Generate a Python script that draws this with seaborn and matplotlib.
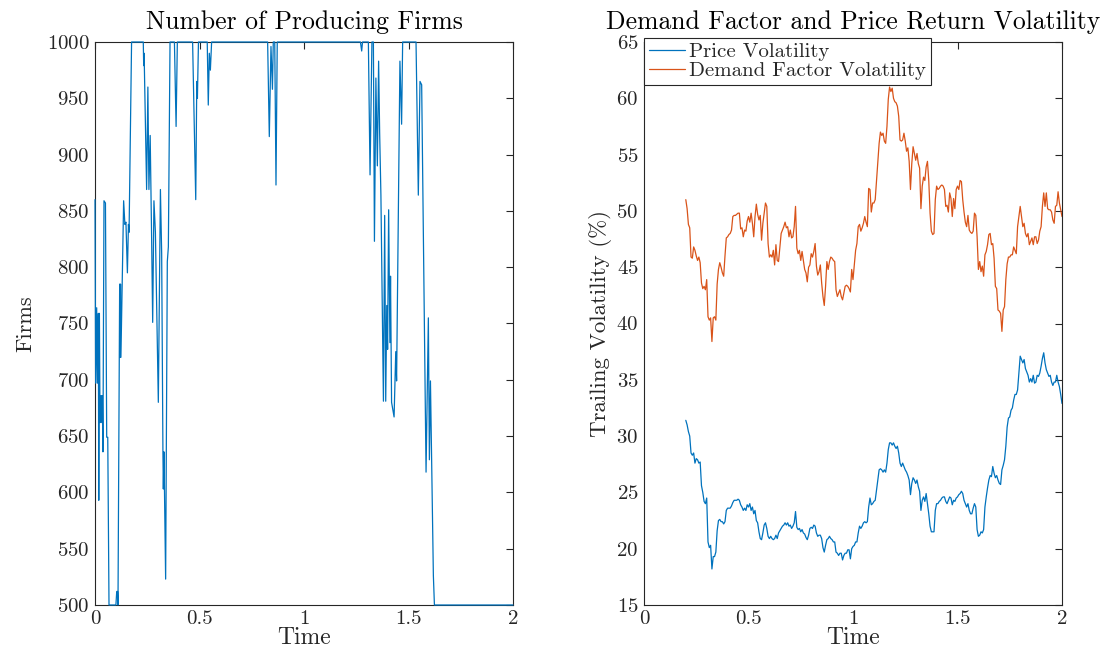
"""Producing firms and trailing volatility, two panels side by side."""

import matplotlib

matplotlib.use("Agg")

import matplotlib.pyplot as plt
import numpy as np
import pandas as pd
import seaborn as sns

# ---- left panel: number of producing firms (vertices) ----
firms_time = [
    0.000, 0.003, 0.008, 0.011, 0.016, 0.018, 0.021, 0.024, 0.029, 0.032,
    0.035, 0.038, 0.043, 0.050, 0.056, 0.061, 0.067, 0.100, 0.104, 0.108,
    0.110, 0.118, 0.120, 0.122, 0.124, 0.137, 0.143, 0.148, 0.155, 0.160,
    0.163, 0.175, 0.231, 0.233, 0.235, 0.247, 0.253, 0.258, 0.264, 0.271,
    0.276, 0.282, 0.289, 0.303, 0.313, 0.319, 0.325, 0.327, 0.330, 0.338,
    0.346, 0.351, 0.359, 0.380, 0.388, 0.394, 0.467, 0.482, 0.487, 0.490,
    0.495, 0.537, 0.542, 0.547, 0.552, 0.558, 0.826, 0.834, 0.842, 0.849,
    0.853, 0.860, 0.866, 0.872, 1.270, 1.276, 1.280, 1.308, 1.316, 1.325,
    1.332, 1.337, 1.344, 1.351, 1.357, 1.362, 1.368, 1.380, 1.386, 1.391,
    1.396, 1.400, 1.405, 1.411, 1.414, 1.419, 1.431, 1.439, 1.443, 1.459,
    1.467, 1.472, 1.536, 1.547, 1.555, 1.563, 1.584, 1.595, 1.600, 1.605,
    1.619, 1.624, 2.000,
]
firms_count = [
    860, 697, 764, 697, 759, 593, 759, 662, 686, 662,
    686, 636, 859, 857, 649, 649, 500, 500, 512, 512,
    500, 785, 720, 785, 720, 859, 838, 840, 795, 838,
    831, 1000, 1000, 979, 990, 869, 960, 869, 917, 825,
    751, 859, 831, 680, 869, 812, 636, 603, 636, 523,
    805, 818, 1000, 1000, 925, 1000, 1000, 860, 965, 950,
    1000, 1000, 944, 990, 975, 1000, 1000, 916, 996, 958,
    1000, 1000, 873, 1000, 1000, 992, 1000, 1000, 882, 1000,
    1000, 823, 968, 890, 983, 919, 864, 681, 846, 681,
    766, 727, 851, 733, 792, 680, 667, 725, 699, 983,
    927, 1000, 1000, 864, 965, 962, 618, 755, 629, 699,
    526, 500, 500,
]

# ---- right panel: trailing volatility (%), sampled every 1/160 from t=0.2 ----
price_vol = [
    # t 0.200 - 0.788
    31.4, 31.0, 30.4, 30.0, 28.5, 28.3, 28.5, 27.6, 28.0, 27.9,
    27.6, 27.7, 25.6, 25.0, 24.2, 24.0, 24.5, 20.6, 20.1, 20.3,
    18.2, 19.3, 19.3, 19.7, 21.6, 22.5, 22.6, 22.4, 22.4, 22.2,
    22.4, 23.4, 23.6, 23.6, 23.6, 23.8, 24.1, 24.3, 24.3, 24.3,
    24.4, 24.3, 23.9, 23.7, 23.4, 23.6, 23.4, 23.9, 23.7, 24.0,
    23.4, 23.7, 23.1, 23.4, 22.5, 22.3, 21.5, 20.9, 20.8, 21.4,
    22.1, 22.3, 21.8, 21.1, 20.9, 21.1, 20.9, 20.8, 20.9, 21.2,
    20.9, 21.4, 21.6, 21.8, 22.0, 22.1, 22.3, 22.1, 22.3, 22.0,
    22.1, 21.8, 22.0, 22.3, 23.3, 21.9, 21.7, 21.8, 21.5, 21.7,
    21.4, 21.3, 21.0, 20.8, 21.2,
    # t 0.794 - 1.319
    21.8, 21.9, 21.8, 22.1, 22.0, 21.4, 21.1, 21.2, 21.2, 20.9,
    20.1, 19.7, 20.3, 20.8, 20.9, 21.1, 20.9, 20.8, 20.6, 20.6,
    19.7, 19.6, 19.4, 19.6, 19.6, 19.0, 19.4, 19.6, 19.6, 19.9,
    19.9, 19.1, 20.0, 20.2, 20.3, 20.6, 20.6, 21.4, 22.0, 21.8,
    22.0, 22.3, 22.4, 22.3, 22.4, 23.7, 24.5, 23.9, 24.0, 24.2,
    24.3, 25.2, 26.1, 27.0, 27.1, 27.0, 26.8, 27.0, 26.8, 27.6,
    28.8, 29.4, 29.4, 29.2, 29.4, 29.1, 28.9, 29.1, 28.5, 27.6,
    27.3, 27.6, 27.3, 27.0, 26.8, 26.5, 26.1, 24.8, 25.8, 26.3,
    26.1, 25.8, 26.1, 25.5, 25.1,
    # t 1.325 - 2.000
    23.4, 24.3, 24.6, 24.2, 24.9, 24.0, 23.1, 22.0, 21.5, 21.5,
    21.5, 23.4, 24.0,
    24.0, 24.2, 24.3, 24.5, 24.6, 24.6, 24.2, 24.0, 24.3, 24.6,
    24.5, 23.9, 24.3, 24.2, 24.5, 24.6, 24.8, 24.9, 25.1, 24.9,
    24.3, 24.0, 23.7, 24.0, 23.4, 23.1, 23.1, 23.6, 24.0, 23.7,
    21.7, 21.1, 21.2, 21.5, 21.4, 21.7, 23.7, 24.6, 25.4, 26.1,
    26.5, 26.4, 27.3, 26.7, 26.3, 26.5, 26.1, 25.8, 25.7, 27.0,
    27.4, 27.9, 29.1, 30.8, 31.6, 31.7, 32.3, 32.5, 33.2, 33.7,
    33.7, 34.1, 35.6, 37.1, 36.8, 36.5, 36.8, 36.0, 35.7, 35.4,
    34.8, 35.1, 34.8, 35.4, 34.7, 34.8, 35.4, 35.3, 35.6, 36.2,
    36.9, 37.4, 36.5, 35.9, 35.6, 35.3, 35.4, 34.8, 34.5, 34.8,
    34.8, 35.4, 34.8, 34.4, 33.7, 32.9,
]
demand_vol = [
    # t 0.200 - 0.788
    51.0, 50.2, 48.8, 48.5, 45.9, 45.8, 46.8, 46.5, 46.0, 45.6,
    45.9, 45.4, 43.6, 43.1, 43.3, 43.0, 43.9, 40.6, 40.3, 40.5,
    38.4, 40.5, 40.6, 40.3, 43.5, 44.8, 45.4, 45.0, 44.5, 44.2,
    46.0, 47.6, 47.7, 47.9, 48.0, 48.3, 49.5, 49.6, 49.6, 49.7,
    49.8, 49.8, 48.4, 48.5, 47.7, 48.3, 48.2, 49.1, 49.5, 49.0,
    49.8, 48.9, 47.7, 49.5, 50.6, 49.7, 49.2, 49.6, 47.4, 48.9,
    49.8, 50.7, 50.4, 47.1, 45.9, 46.1, 45.9, 46.5, 45.2, 47.0,
    45.6, 45.5, 46.8, 48.0, 48.3, 48.6, 49.0, 48.5, 48.6, 47.7,
    48.3, 47.6, 47.7, 48.6, 50.4, 46.7, 46.2, 46.5, 45.6, 46.4,
    45.6, 44.8, 44.5, 43.7, 45.0,
    # t 0.794 - 1.319
    45.2, 46.2, 45.9, 46.4, 47.1, 45.1, 44.3, 44.6, 45.2, 43.6,
    42.4, 41.6, 43.3, 45.5, 44.8, 45.5, 45.9, 45.8, 45.6, 45.5,
    43.0, 42.4, 42.7, 43.0, 42.4, 42.1, 42.7, 43.3, 43.4, 43.3,
    43.1, 42.8, 44.8, 43.9, 45.2, 46.5, 47.1, 48.6, 48.8, 48.2,
    48.5, 48.9, 49.5, 49.0, 48.6, 52.0, 51.9, 49.9, 50.7, 50.7,
    51.0, 52.7, 54.5, 56.0, 57.0, 56.7, 56.9, 56.2, 56.0, 57.5,
    59.9, 61.0, 60.6, 60.9, 60.0, 59.7, 59.6, 59.3, 58.4, 56.3,
    56.2, 56.3, 56.9, 56.2, 55.3, 55.6, 54.4, 51.9, 54.2, 55.7,
    55.1, 54.5, 55.1, 54.2, 53.8,
    # t 1.325 - 2.000
    50.2, 52.2, 53.0, 52.7, 53.9, 54.4, 52.7, 49.8, 48.2, 47.9,
    48.0, 51.0, 52.2, 51.9, 52.0, 52.2, 52.3, 52.2, 51.9, 50.4,
    50.5, 49.9, 51.6, 51.1, 49.5, 51.1, 50.2, 51.9, 52.2, 51.9,
    52.7, 52.6, 51.0, 49.9, 49.0, 48.6, 49.6, 48.3,
    48.1, 48.0, 48.2, 49.8, 49.6, 47.7, 44.8, 45.5, 44.6, 45.1,
    44.2, 46.1, 46.4, 47.0, 47.9, 48.0, 47.0, 47.1, 45.8, 43.3,
    43.1, 41.2, 41.1, 40.9, 39.3, 41.2, 41.5, 43.9, 45.3, 45.9,
    45.9, 46.1, 46.1, 46.8, 46.5, 46.2, 48.6, 49.5, 50.4, 49.5,
    48.6, 48.9, 48.0, 47.7, 48.0, 47.0, 47.3, 47.6, 47.0, 47.7,
    47.7, 47.1, 47.4, 48.2, 48.6, 50.4, 51.6, 50.4, 51.6, 50.2,
    50.1, 50.1, 49.9, 49.2, 48.9, 50.4, 50.5, 51.7, 50.7, 50.1,
    49.5,
]
vol_time = np.linspace(0.2, 2.0, len(price_vol))

series_names = ["Price Volatility", "Demand Factor Volatility"]
series_colors = ["#0072BD", "#D95319"]
time_ticks = [0, 0.5, 1, 1.5, 2]
time_tick_labels = ["0", "0.5", "1", "1.5", "2"]
firms_ticks = list(range(500, 1001, 50))
vol_ticks = list(range(15, 66, 5))

sns.set_theme(style="white")
plt.rcParams["font.family"] = ["cmr10", "DejaVu Serif"]
plt.rcParams["axes.formatter.use_mathtext"] = True
plt.rcParams["mathtext.fontset"] = "cm"

AXIS_GREY = "#262626"

fig = plt.figure(figsize=(11.13, 6.55), dpi=100)
ax_firms = fig.add_axes([95 / 1113, 50 / 655, 418 / 1113, 563 / 655])
ax_vol = fig.add_axes([644 / 1113, 50 / 655, 418 / 1113, 563 / 655])

firms_df = pd.DataFrame({"time": firms_time, "firms": firms_count})
sns.lineplot(
    data=firms_df, x="time", y="firms", ax=ax_firms, estimator=None, sort=False,
    color=series_colors[0], linewidth=0.9, zorder=3, clip_on=False,
)

vol_df = pd.concat(
    [
        pd.DataFrame({"time": vol_time, "vol": price_vol, "series": series_names[0]}),
        pd.DataFrame({"time": vol_time, "vol": demand_vol, "series": series_names[1]}),
    ],
    ignore_index=True,
)
sns.lineplot(
    data=vol_df, x="time", y="vol", hue="series", ax=ax_vol, estimator=None,
    palette=dict(zip(series_names, series_colors)), linewidth=0.9,
)

for ax, yticks, ylim in [
    (ax_firms, firms_ticks, (500, 1000)),
    (ax_vol, vol_ticks, (15, 65)),
]:
    ax.set_xlim(0, 2)
    ax.set_ylim(*ylim)
    ax.set_xticks(time_ticks)
    ax.set_xticklabels(time_tick_labels)
    ax.set_yticks(yticks)
    ax.tick_params(
        direction="in", top=True, right=True, length=5, width=0.8,
        colors=AXIS_GREY, labelsize=15, pad=4,
    )
    for spine in ax.spines.values():
        spine.set_color(AXIS_GREY)
        spine.set_linewidth(0.8)
    ax.set_xlabel("Time", fontsize=17, color=AXIS_GREY, labelpad=-1)

ax_firms.set_title("Number of Producing Firms", fontsize=18.5, pad=9, color="black")
ax_firms.set_ylabel("Firms", fontsize=16, color=AXIS_GREY, labelpad=8)

ax_vol.set_title("Demand Factor and Price Return Volatility", fontsize=18.5, pad=9, color="black")
ax_vol.set_ylabel("Trailing Volatility (%)", fontsize=16.5, color=AXIS_GREY, labelpad=3)

handles, labels = ax_vol.get_legend_handles_labels()
leg = ax_vol.legend(
    handles, labels, loc="upper left", bbox_to_anchor=(0, 1.007), borderaxespad=0,
    fontsize=15, frameon=True, fancybox=False, framealpha=1, edgecolor=AXIS_GREY,
    handlelength=1.75, handletextpad=0.2, labelspacing=0.02, borderpad=0.22,
)
leg.get_frame().set_linewidth(0.8)
for line in leg.get_lines():
    line.set_linewidth(0.9)

fig.savefig("out.png", dpi=100)
